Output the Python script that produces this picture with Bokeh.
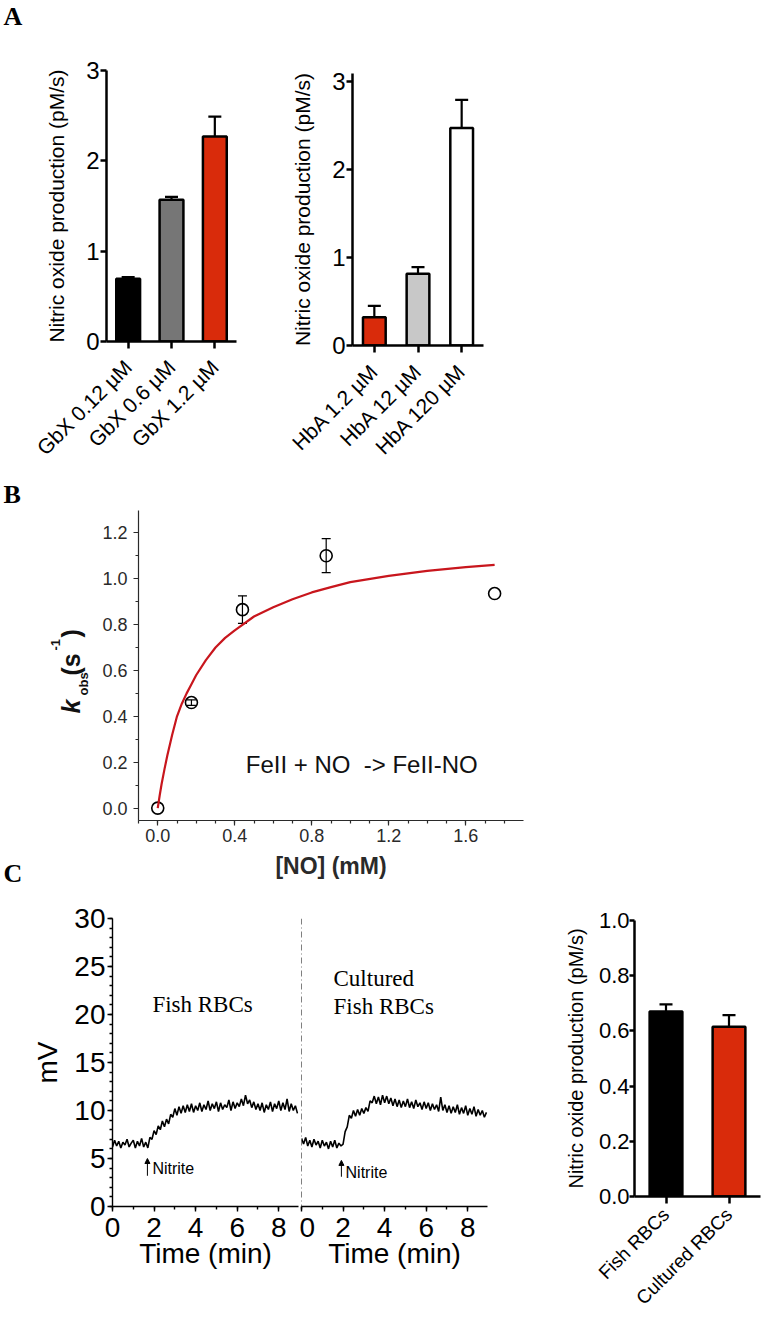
import math
from bokeh.plotting import figure
from bokeh.models import (ColumnDataSource, Whisker, TeeHead, Label, Arrow, NormalHead, Span,
                          FixedTicker, SingleIntervalTicker, PrintfTickFormatter, Range1d, FactorRange)
from bokeh.core.properties import value
from bokeh.layouts import column, row
from bokeh.embed import file_html
from bokeh.resources import INLINE

SANS = "Liberation Sans"
SERIF = "Liberation Serif"

# ---------------- data ----------------
gbx_labels = ["GbX 0.12 \u00b5M", "GbX 0.6 \u00b5M", "GbX 1.2 \u00b5M"]
gbx_values = [0.695, 1.57, 2.27]
gbx_errors = [0.017, 0.03, 0.22]
gbx_colors = ["#000000", "#767676", "#d92b0b"]

hba_labels = ["HbA 1.2 \u00b5M", "HbA 12 \u00b5M", "HbA 120 \u00b5M"]
hba_values = [0.32, 0.815, 2.47]
hba_errors = [0.13, 0.075, 0.32]
hba_colors = ["#d92b0b", "#c8c8c8", "#ffffff"]

no_conc = [0.0, 0.175, 0.44, 0.875, 1.75]
kobs = [0.0, 0.46, 0.865, 1.10, 0.935]
kobs_err = [0.0, 0.012, 0.06, 0.074, 0.0]
fit_x = [0.0, 0.01, 0.02, 0.035, 0.05, 0.075, 0.1, 0.125, 0.15, 0.175, 0.2, 0.25, 0.3, 0.35,
         0.4, 0.5, 0.6, 0.7, 0.8, 0.9, 1.0, 1.2, 1.4, 1.6, 1.75]
fit_y = [0.0, 0.055, 0.105, 0.17, 0.23, 0.32, 0.40, 0.455, 0.50, 0.54, 0.58, 0.645, 0.70, 0.742,
         0.775, 0.835, 0.875, 0.91, 0.94, 0.963, 0.985, 1.012, 1.034, 1.05, 1.06]

trace_t0 = 0.0
trace_dt = 0.1
fish_mv = [6.2, 6.9, 6.3, 6.8, 6.1, 6.7, 6.4, 7.0, 6.2, 6.6, 6.9, 6.1, 6.8, 6.3, 7.1, 6.2, 6.7,
           6.1, 7.2, 7.0, 7.9, 7.5, 8.4, 8.0, 8.9, 8.3, 9.1, 8.6, 9.6, 9.3, 10.2,
           9.5, 10.4, 9.7, 10.5, 9.8, 10.6, 9.9, 10.7, 9.8, 10.5,
           10.0, 10.8, 9.9, 10.6, 10.1, 11.0, 10.0, 10.7, 10.2, 10.9,
           9.9, 10.8, 10.1, 10.6, 10.3, 11.1, 10.0, 10.9, 10.2, 10.8,
           10.4, 11.2, 10.5, 11.6, 10.7, 11.1, 10.3, 10.9, 10.1, 10.7,
           10.0, 10.8, 9.8, 10.6, 10.1, 10.9, 9.9, 10.7, 10.2, 11.0,
           10.0, 10.8, 10.1, 11.2, 9.9, 10.7, 10.0, 10.5, 9.7]
cultured_mv = [7.1, 6.5, 7.2, 6.3, 6.9, 6.2, 7.0, 6.4, 6.8, 6.1, 6.9, 6.3, 6.7, 6.0, 6.8, 6.2,
               6.9, 6.1, 6.6, 6.3, 6.5,
               7.8, 8.3, 9.5, 9.2, 10.0, 9.4, 10.1, 9.5, 10.2, 9.7,
               10.3, 9.9, 11.0, 10.8, 11.5, 10.7, 11.4, 10.6, 11.6, 10.8,
               11.5, 10.7, 11.3, 10.5, 11.2, 10.4, 11.1, 10.3, 11.0, 10.4,
               11.2, 10.3, 10.9, 10.2, 11.1, 10.4, 10.8, 10.1, 10.9, 10.2,
               10.8, 10.0, 10.7, 10.1, 10.6, 9.9, 11.4, 10.0, 10.6, 9.8,
               10.5, 9.7, 10.4, 9.8, 10.6, 9.6, 10.3, 9.7, 10.5, 9.5,
               10.2, 9.6, 10.4, 9.4, 10.1, 9.5, 10.0, 9.3, 9.8]
nitrite_time = [1.68, 1.92]

rbc_labels = ["Fish RBCs", "Cultured RBCs"]
rbc_values = [0.67, 0.615]
rbc_errors = [0.026, 0.042]
rbc_colors = ["#000000", "#d92b0b"]


# ---------------- helpers ----------------
def fig(**kw):
    return figure(toolbar_location=None, output_backend="svg", frame_align=False, **kw)


def clean(p):
    p.xgrid.visible = False
    p.ygrid.visible = False
    p.outline_line_color = None
    p.background_fill_color = "white"
    p.border_fill_color = "white"


def style_axis(ax, lw, tick_out, minor_out, color, font_size, standoff):
    ax.axis_line_width = lw
    ax.axis_line_color = color
    ax.major_tick_line_width = lw
    ax.major_tick_line_color = color
    ax.major_tick_out = tick_out
    ax.major_tick_in = 0
    if minor_out:
        ax.minor_tick_line_color = color
        ax.minor_tick_line_width = lw
        ax.minor_tick_out = minor_out
        ax.minor_tick_in = 0
    else:
        ax.minor_tick_line_color = None
    ax.major_label_text_color = color
    ax.major_label_text_font = SANS
    ax.major_label_text_font_size = font_size
    ax.major_label_standoff = standoff
    ax.axis_label_text_font = SANS
    ax.axis_label_text_font_style = "normal"
    ax.axis_label_text_color = color


def bar_panel(labels, values, errors, colors, ymax, yticks, width, height, bl, br, bt, bb,
              tick_font, cat_font, cat_standoff, ylab_font, ylab_standoff, bar_width, fmt=None):
    up = [v + e for v, e in zip(values, errors)]
    src = ColumnDataSource(dict(cat=labels, val=values, up=up, color=colors))
    p = fig(x_range=FactorRange(*labels), y_range=Range1d(0, ymax), width=width, height=height,
            min_border_left=bl, min_border_right=br, min_border_top=bt, min_border_bottom=bb)
    clean(p)
    p.add_layout(Whisker(base="cat", lower="val", upper="up", source=src, dimension="height",
                         line_color="black", line_width=2.2, lower_head=None,
                         upper_head=TeeHead(size=13, line_width=2.2, line_color="black")))
    p.vbar(x="cat", top="val", width=bar_width, source=src, fill_color="color",
           line_color="black", line_width=2.5)
    style_axis(p.xaxis[0], 2.5, 7, 0, "black", cat_font, cat_standoff)
    style_axis(p.yaxis[0], 2.5, 6, 0, "black", tick_font, 1)
    p.xaxis.major_label_orientation = math.pi / 4
    p.yaxis.ticker = FixedTicker(ticks=yticks)
    if fmt:
        p.yaxis.formatter = PrintfTickFormatter(format=fmt)
    p.yaxis.axis_label = "Nitric oxide production (pM/s)"
    p.yaxis.axis_label_text_font_size = ylab_font
    p.yaxis.axis_label_standoff = ylab_standoff
    return p


def strip(width, height):
    """Empty figure used only to hold panel letters / composite axis title (page pixel coords)."""
    p = fig(x_range=Range1d(0, width), y_range=Range1d(0, height), width=width, height=height,
            min_border_left=0, min_border_right=0, min_border_top=0, min_border_bottom=0,
            x_axis_location=None, y_axis_location=None, title=None)
    clean(p)
    return p


letter_kw = dict(text_font=value(SERIF), text_font_style="bold", text_font_size="26px",
                 text_color="black", text_baseline="alphabetic", text_align="left")

# ---------------- Panel A (page rows 0..470) ----------------
ROW_A_H = 470
sA = strip(30, ROW_A_H)
sA.text(x=[3], y=[ROW_A_H - 16], text=["A"], **letter_kw)

pA1 = bar_panel(gbx_labels, gbx_values, gbx_errors, gbx_colors, 3, [0, 1, 2, 3],
                228, ROW_A_H, 76, 22, 70, 123, "24px", "21px", 15, "21px", 15, 0.55)
pA2 = bar_panel(hba_labels, hba_values, hba_errors, hba_colors, 3.09, [0, 1, 2, 3],
                235, ROW_A_H, 94, 10, 73, 125, "24px", "21px", 15, "21px", 15, 0.52)

# ---------------- Panel B (page rows 470..888) ----------------
ROW_B_H = 418
sB = strip(95, ROW_B_H)
sB.text(x=[3, 3], y=[ROW_B_H - 24, 15], text=["B", "C"], **letter_kw)
# composite rotated title k_obs (s^-1)
kl = dict(angle=math.pi / 2, text_font=value(SANS), text_color="#111111", text_align="left",
          text_baseline="alphabetic")
sB.text(x=[70], y=[175], text=["k"], text_font_size="25px", text_font_style="bold italic", **kl)
sB.text(x=[83], y=[193], text=["obs"], text_font_size="13px", text_font_style="bold", **kl)
sB.text(x=[70], y=[213], text=["(s"], text_font_size="25px", text_font_style="bold", **kl)
sB.text(x=[55], y=[238], text=["-1"], text_font_size="13px", text_font_style="bold", **kl)
sB.text(x=[70], y=[251], text=[")"], text_font_size="25px", text_font_style="bold", **kl)

pB = fig(x_range=Range1d(-0.1, 1.9), y_range=Range1d(-0.054, 1.297), width=443, height=ROW_B_H,
         min_border_left=43, min_border_right=15, min_border_top=40, min_border_bottom=68)
clean(pB)
gray = "#2a2a2a"
style_axis(pB.xaxis[0], 1.2, 5, 3, gray, "18px", 3)
style_axis(pB.yaxis[0], 1.2, 5, 3, gray, "18px", 6)
pB.xaxis.ticker = SingleIntervalTicker(interval=0.4, num_minor_ticks=4)
pB.yaxis.ticker = SingleIntervalTicker(interval=0.2, num_minor_ticks=2)
pB.xaxis.formatter = PrintfTickFormatter(format="%.1f")
pB.yaxis.formatter = PrintfTickFormatter(format="%.1f")
pB.xaxis.axis_label = "[NO] (mM)"
pB.xaxis.axis_label_text_font_style = "bold"
pB.xaxis.axis_label_text_font_size = "23px"
pB.xaxis.axis_label_standoff = 8

err_x = [x for x, e in zip(no_conc, kobs_err) if e > 0]
err_lo = [k - e for k, e in zip(kobs, kobs_err) if e > 0]
err_hi = [k + e for k, e in zip(kobs, kobs_err) if e > 0]
esrc = ColumnDataSource(dict(x=err_x, lo=err_lo, hi=err_hi))
pB.add_layout(Whisker(base="x", lower="lo", upper="hi", source=esrc, dimension="height",
                      line_color="black", line_width=1.2,
                      upper_head=TeeHead(size=9, line_width=1.2, line_color="black"),
                      lower_head=TeeHead(size=9, line_width=1.2, line_color="black")))
pB.scatter(no_conc, kobs, marker="circle", size=12, fill_color=None, line_color="black", line_width=1.6)
pB.line(fit_x, fit_y, line_color="#c8161d", line_width=2.2)
pB.add_layout(Label(x=0.457, y=0.132, text="FeII + NO\u00a0 -> FeII-NO", text_font=SANS,
                    text_font_size="24px", text_color="#111111"))

# ---------------- Panel C (page rows 888..1318) ----------------
ROW_C_H = 430
t_fish = [round(trace_t0 + i * trace_dt, 2) for i in range(len(fish_mv))]
t_cult = [round(trace_t0 + i * trace_dt, 2) for i in range(len(cultured_mv))]

pC1 = fig(x_range=Range1d(0, 8.95), y_range=Range1d(0, 30), width=299, height=ROW_C_H,
          min_border_left=112, min_border_right=1, min_border_top=30, min_border_bottom=112)
pC2 = fig(x_range=Range1d(0, 8.95), y_range=pC1.y_range, width=200, height=ROW_C_H,
          min_border_left=2, min_border_right=12, min_border_top=30, min_border_bottom=112,
          y_axis_location=None)
for p in (pC1, pC2):
    clean(p)
    style_axis(p.xaxis[0], 1.4, 5, 3, "black", "28px", 6)
    p.xaxis.ticker = SingleIntervalTicker(interval=2, num_minor_ticks=2)
    p.xaxis.axis_label = "Time (min)"
    p.xaxis.axis_label_text_font_size = "28px"
    p.xaxis.axis_label_standoff = -2
style_axis(pC1.yaxis[0], 1.4, 5, 3, "black", "28px", 2)
pC1.yaxis.ticker = SingleIntervalTicker(interval=5, num_minor_ticks=5)
pC1.yaxis.axis_label = "mV"
pC1.yaxis.axis_label_text_font_size = "28px"
pC1.yaxis.axis_label_standoff = 8

pC1.line(t_fish, fish_mv, line_color="black", line_width=1.6)
pC2.line(t_cult, cultured_mv, line_color="black", line_width=1.6)
pC2.add_layout(Span(location=0, dimension="height", line_color="black", line_width=1,
                    line_dash="6 3 1 3"))

pC1.add_layout(Label(x=1.92, y=19.7, text="Fish RBCs", text_font=SERIF, text_font_size="23px",
                     text_color="black"))
pC2.add_layout(Label(x=1.54, y=22.4, text="Cultured", text_font=SERIF, text_font_size="23px",
                     text_color="black"))
pC2.add_layout(Label(x=1.54, y=19.5, text="Fish RBCs", text_font=SERIF, text_font_size="23px",
                     text_color="black"))

for p, tx, ylo, yhi, lx, ly in ((pC1, nitrite_time[0], 3.2, 5.0, 1.92, 3.96),
                                (pC2, nitrite_time[1], 3.1, 4.8, 2.12, 3.55)):
    p.add_layout(Arrow(end=NormalHead(size=5, fill_color="black", line_color="black", line_width=1),
                       x_start=tx, y_start=ylo, x_end=tx, y_end=yhi, line_width=1, line_color="black"))
    p.add_layout(Label(x=lx, y=ly, text="Nitrite", text_font=SANS, text_font_size="16px",
                       text_color="black", text_baseline="middle"))

pC3 = bar_panel(rbc_labels, rbc_values, rbc_errors, rbc_colors, 1.0, [0, 0.2, 0.4, 0.6, 0.8, 1.0],
                262, ROW_C_H, 135, 1, 32, 121, "22px", "19px", 8, "20px", 9, 0.52, fmt="%.1f")
pC3.yaxis[0].major_tick_out = 5
pC3.yaxis[0].major_label_standoff = 0

layout = column(row(sA, pA1, pA2), row(sB, pB), row(pC1, pC2, pC3))
open("out.html", "w").write(file_html(layout, INLINE))
